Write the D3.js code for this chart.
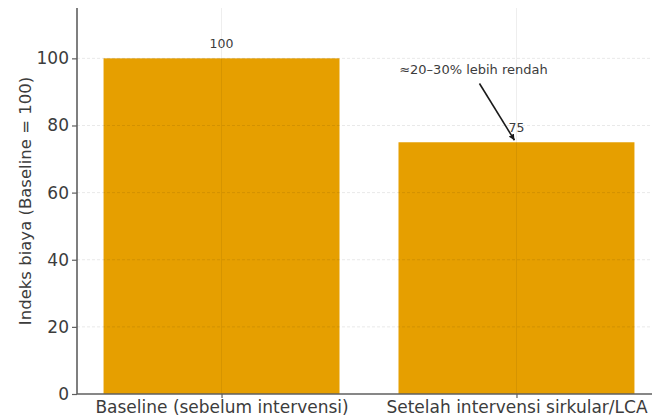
<!DOCTYPE html>
<html>
<head>
<meta charset="utf-8">
<script src="https://cdn.jsdelivr.net/npm/d3@7"></script>
<style>
  html, body { margin: 0; padding: 0; background: #fff; }
  svg { display: block; font-family: "DejaVu Sans", sans-serif; }
</style>
</head>
<body>
<svg id="chart" width="652" height="416"></svg>
<script>
const categories = ["Baseline (sebelum intervensi)", "Setelah intervensi sirkular/LCA"];
const values = [100, 75];
const yTicks = [0, 20, 40, 60, 80, 100];
const yLabel = "Indeks biaya (Baseline = 100)";
const annotationText = "≈20–30% lebih rendah";
const annotationTarget = { category: categories[1], value: 75 };

(function () {
const W = 652, H = 416;
const pLeft = 77, pRight = 661, pTop = 8, pBottom = 394;
const barColor = "#E69F00";
const textColor = "#3c3c3c";
const spineColor = "#5f5f5f";

const svg = d3.select("#chart");

const x = d3.scalePoint().domain(categories).range([pLeft, pRight]).padding(0.49);
const y = d3.scaleLinear().domain([0, 115]).range([pBottom, pTop]);
const barW = x.step() * 0.8;

// bars
svg.append("g").selectAll("rect").data(values).join("rect")
  .attr("x", (d, i) => x(categories[i]) - barW / 2)
  .attr("y", d => y(d))
  .attr("width", barW)
  .attr("height", d => y(0) - y(d))
  .attr("fill", barColor);

// grid (drawn above bars, faint)
const grid = svg.append("g");
grid.selectAll("line.h").data(yTicks.filter(t => t > 0)).join("line")
  .attr("class", "h")
  .attr("x1", pLeft).attr("x2", W)
  .attr("y1", d => y(d)).attr("y2", d => y(d))
  .attr("stroke", "rgba(0,0,0,0.09)")
  .attr("stroke-width", 1)
  .attr("stroke-dasharray", "3,2");
grid.selectAll("line.v").data(categories).join("line")
  .attr("class", "v")
  .attr("x1", d => x(d)).attr("x2", d => x(d))
  .attr("y1", pTop).attr("y2", pBottom)
  .attr("stroke", "rgba(0,0,0,0.07)")
  .attr("stroke-width", 1);

// value labels
svg.append("g").selectAll("text").data(values).join("text")
  .attr("x", (d, i) => x(categories[i]))
  .attr("y", d => y(d) - 10)
  .attr("text-anchor", "middle")
  .attr("font-size", "12.5px")
  .attr("fill", textColor)
  .text(d => d);

// axes
const yAxis = svg.append("g")
  .attr("transform", `translate(${pLeft},0)`)
  .call(d3.axisLeft(y).tickValues(yTicks).tickSize(5).tickPadding(3));
const xAxis = svg.append("g")
  .attr("transform", `translate(0,${pBottom})`)
  .call(d3.axisBottom(x).tickSize(4).tickPadding(3));

[yAxis, xAxis].forEach(g => {
  g.select(".domain").attr("stroke", spineColor).attr("stroke-width", 1.6);
  g.selectAll(".tick line").attr("stroke", spineColor).attr("stroke-width", 1.2);
  g.selectAll(".tick text").attr("fill", textColor).attr("font-size", "17px")
    .attr("font-family", "DejaVu Sans, sans-serif");
});
yAxis.select(".domain").attr("d", `M0,${pBottom}V${pTop}`);
xAxis.select(".domain").attr("d", `M${pLeft},0H${W}`);
xAxis.selectAll(".tick text").attr("dy", "0.71em");

// y label
svg.append("text")
  .attr("transform", `translate(31,${(pTop + pBottom) / 2}) rotate(-90)`)
  .attr("text-anchor", "middle")
  .attr("font-size", "16.5px")
  .attr("fill", textColor)
  .text(yLabel);

// annotation
const tx = x(annotationTarget.category), ty = y(annotationTarget.value);
svg.append("text")
  .attr("x", tx - 43)
  .attr("y", y(95.3))
  .attr("text-anchor", "middle")
  .attr("font-size", "13px")
  .attr("fill", textColor)
  .text(annotationText);

svg.append("defs").append("marker")
  .attr("id", "ah")
  .attr("viewBox", "0 0 10 10")
  .attr("refX", 10).attr("refY", 5)
  .attr("markerWidth", 6).attr("markerHeight", 6)
  .attr("markerUnits", "userSpaceOnUse")
  .attr("orient", "auto")
  .append("path").attr("d", "M0,0L10,5L0,10z").attr("fill", "#1a1a1a");
svg.append("line")
  .attr("x1", tx - 37).attr("y1", y(92.5))
  .attr("x2", tx - 2).attr("y2", ty - 2)
  .attr("stroke", "#1a1a1a")
  .attr("stroke-width", 1.6)
  .attr("marker-end", "url(#ah)");
})();
</script>
</body>
</html>
